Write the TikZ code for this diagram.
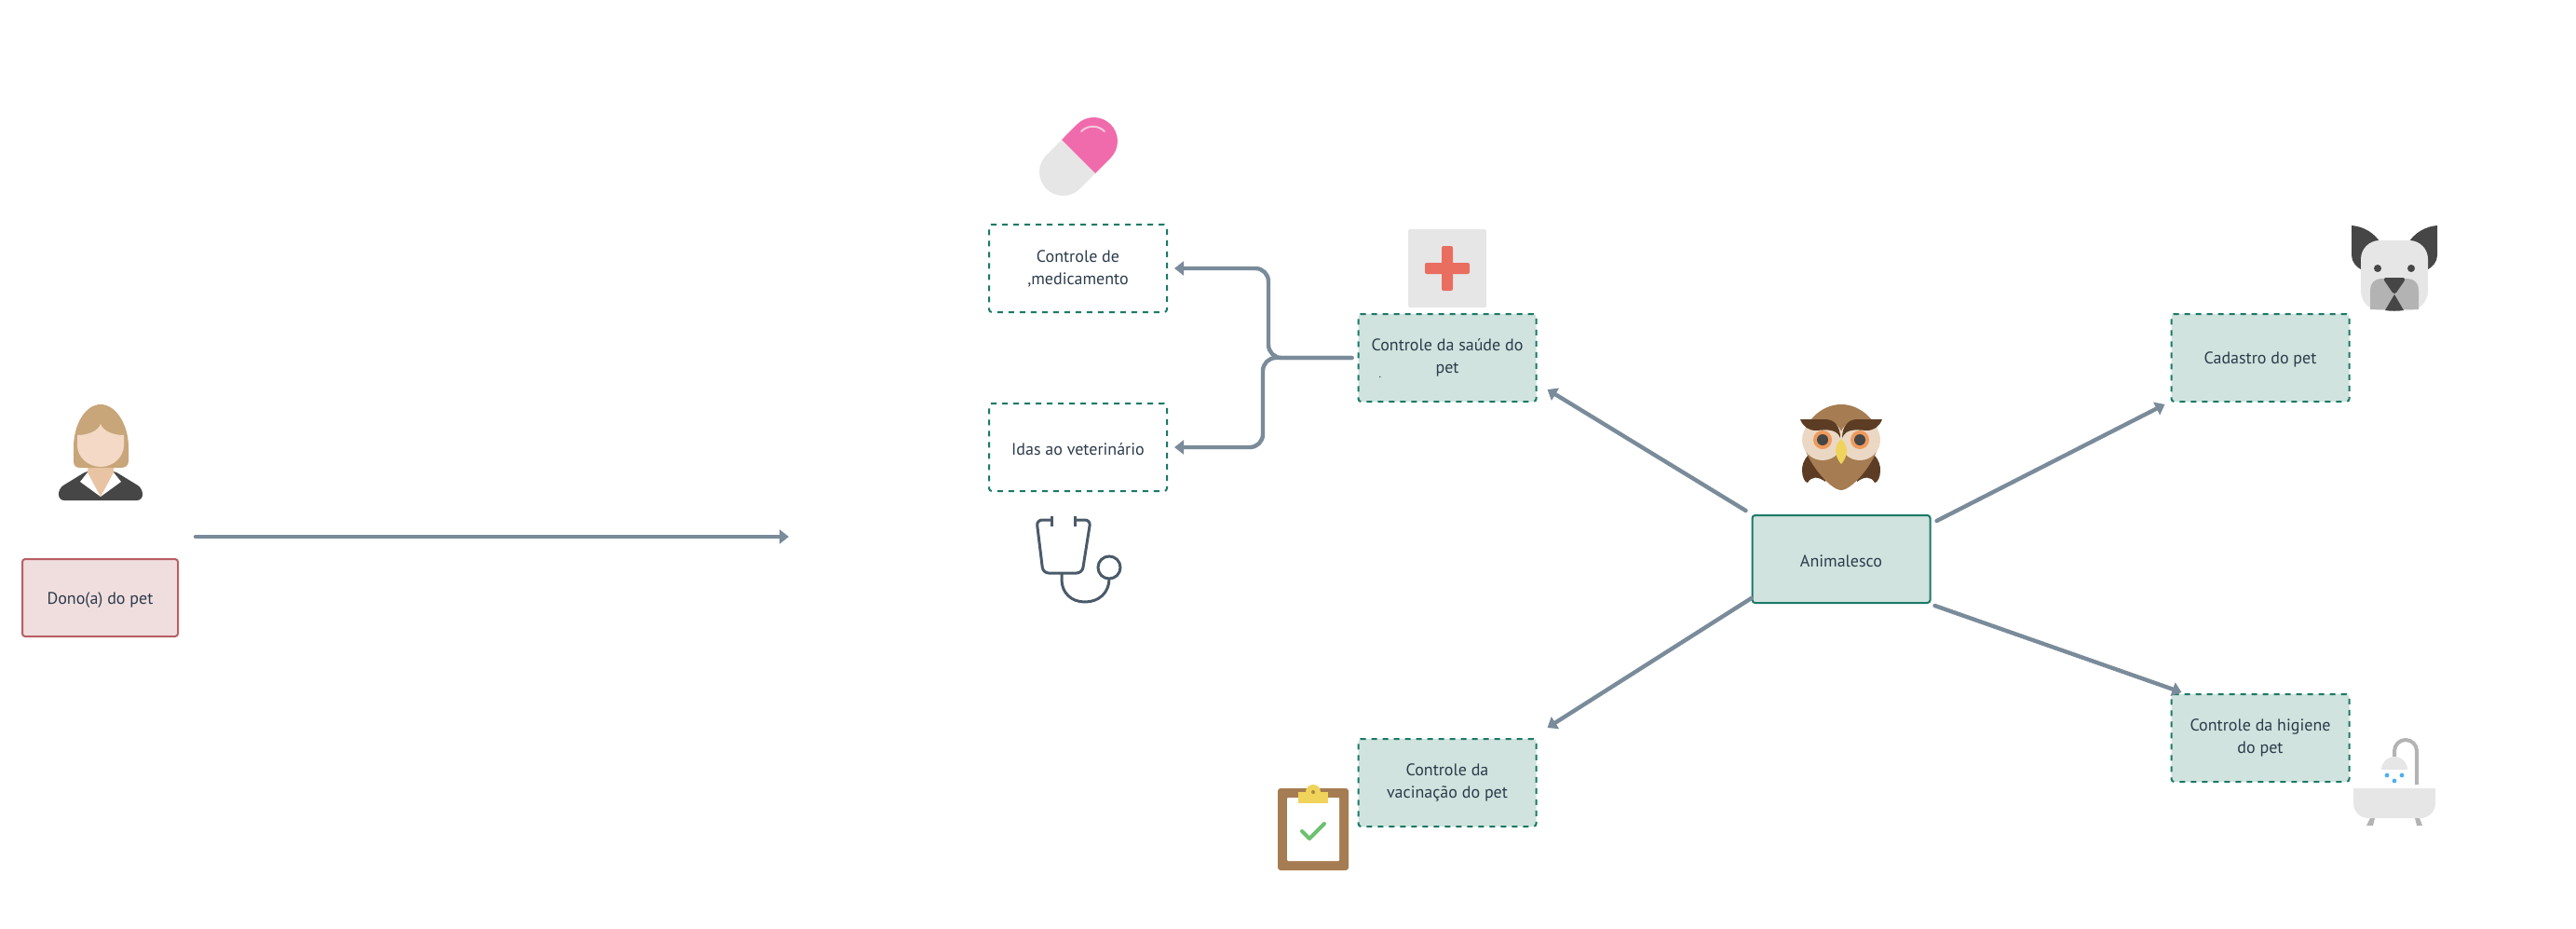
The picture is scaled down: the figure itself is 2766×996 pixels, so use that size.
\documentclass[tikz,border=0pt]{standalone}
\usepackage{fontspec}
\setmainfont{PT Sans}
\usetikzlibrary{arrows.meta}

\definecolor{tealline}{HTML}{1A7A66}
\definecolor{tealfill}{HTML}{D1E3DE}
\definecolor{redline}{HTML}{B85F63}
\definecolor{redfill}{HTML}{F0DEDF}
\definecolor{connline}{HTML}{7A8B9A}
\definecolor{labeltext}{HTML}{2C3B4B}
\definecolor{darkgray}{HTML}{464646}
\definecolor{midgray}{HTML}{B3B3B3}
\definecolor{lightgray}{HTML}{E6E6E6}
\definecolor{owlbrown}{HTML}{A67C52}
\definecolor{darkbrown}{HTML}{5C3D24}
\definecolor{cream}{HTML}{EAD8C5}
\definecolor{beakyellow}{HTML}{F0D35A}
\definecolor{eyeorange}{HTML}{EE9A5C}
\definecolor{hairtan}{HTML}{C8A67A}
\definecolor{necktan}{HTML}{E9C4A4}
\definecolor{facetan}{HTML}{F3D9C6}
\definecolor{pillpink}{HTML}{F06BAC}
\definecolor{pillshine}{HTML}{F5C8DD}
\definecolor{crossred}{HTML}{E96E60}
\definecolor{scopeblue}{HTML}{4A5A69}
\definecolor{dropblue}{HTML}{4DB0F0}
\definecolor{checkgreen}{HTML}{6CC070}
\definecolor{cliphole}{HTML}{A68A3A}

\tikzset{
  x=0.5pt, y=-0.5pt,
  box/.style={rounded corners=1.5pt, line width=1pt, minimum width=95.5pt, minimum height=47pt,
    inner sep=0pt, align=center, text=labeltext, font=\fontsize{9}{12}\selectfont,
    execute at begin node={\rule{0pt}{8.6pt}}},
  solidbox/.style={box, draw=tealline, fill=tealfill},
  dashbox/.style={box, draw=tealline, fill=tealfill, dash pattern=on 3pt off 3pt},
  plainbox/.style={box, draw=tealline, dash pattern=on 3pt off 3pt},
  ownerbox/.style={box, draw=redline, fill=redfill, minimum width=83.5pt, minimum height=41.5pt},
  conn/.style={draw=connline, line width=2.2pt, line cap=round, -{Triangle[length=5pt,width=7.5pt]}}
}

\begin{document}
\begin{tikzpicture}
    \useasboundingbox (0,0) rectangle (2766,996);

    \node[ownerbox] (owner) at (107.5,641.5) {Dono(a) do pet};
    \node[plainbox] (med) at (1157.5,288) {Controle de\\,medicamento};
    \node[plainbox] (vet) at (1157.5,480) {Idas ao veterinário};
    \node[dashbox] (saude) at (1554,384) {Controle da saúde do\\pet};
    \node[dashbox] (vacina) at (1554,840) {Controle da\\vacinação do pet};
    \node[solidbox] (anim) at (1977,600) {Animalesco};
    \node[dashbox] (cadastro) at (2427,384) {Cadastro do pet};
    \node[dashbox] (higiene) at (2427,792) {Controle da higiene\\do pet};
    \node[text=labeltext, inner sep=0pt, font=\fontsize{6}{6}\selectfont] (ponto) at (1482,405) {.};

    \coordinate (ownerout) at (210,576);
    \coordinate (ownerin) at (847,576);
    \draw[conn] (ownerout) -- (ownerin);
    \draw[conn] ([shift={(-6,-4)}]anim.north west) -- ([shift={(11,-14)}]saude.south east);
    \draw[conn] ([shift={(6,7)}]anim.north east) -- ([shift={(-6,2)}]cadastro.south west);
    \draw[conn] ([shift={(0,-6)}]anim.south west) -- ([shift={(11,-11)}]vacina.north east);
    \draw[conn] ([shift={(4,2)}]anim.south east) -- ([shift={(12,-1)}]higiene.north west);
    \draw[conn, rounded corners=7pt] ([xshift=-3pt]saude.west) -- (1362,384) |- ([xshift=3.5pt]med.east);
    \draw[conn, rounded corners=7pt] ([xshift=-3pt]saude.west) -- (1356,384) |- ([xshift=3.5pt]vet.east);

    % person
    \fill[darkgray, rounded corners=3pt] (63,537) -- (63,524) -- (94,505) -- (122,505) -- (153,524) -- (153,537) -- cycle;
    \fill[white] (94,507) -- (86,517) -- (108,533) -- (130,517) -- (122,507) -- cycle;
    \fill[necktan] (95,495) -- (122,495) -- (122,507) -- (108,533) -- (94,507) -- cycle;
    \fill[hairtan] (108,434) .. controls (124,434) and (138,455) .. (138,480) -- (138,495)
      .. controls (138,500) and (134,502) .. (130,502) -- (86,502)
      .. controls (82,502) and (79,500) .. (79,495) -- (79,480)
      .. controls (79,455) and (92,434) .. (108,434);
    \fill[facetan] (108,455) .. controls (111,463) and (122,467) .. (133,467) -- (133,478)
      .. controls (133,490) and (122,501) .. (108,501)
      .. controls (94,501) and (83,490) .. (83,478) -- (83,467)
      .. controls (94,467) and (105,463) .. (108,455);

    % pill
    \fill[lightgray] (1140,150) -- (1123.5,166.5) arc[start angle=225, end angle=45, radius=25.5] -- (1176,186) -- cycle;
    \fill[pillpink] (1176,186) -- (1192.5,169.5) arc[start angle=45, end angle=-135, radius=25.5] -- (1140,150) -- cycle;
    \draw[pillshine, line width=1pt, line cap=round] (1161,141) .. controls (1168,134) and (1179,134) .. (1186,141);

    % cross
    \fill[lightgray, rounded corners=1pt] (1512,246) rectangle (1596,330);
    \fill[crossred, rounded corners=1pt] (1530,282) rectangle (1578,294);
    \fill[crossred, rounded corners=1pt] (1548,264) rectangle (1560,312);

    % stethoscope
    \draw[scopeblue, line width=1.5pt, rounded corners=3pt] (1129,558) -- (1113,558) -- (1120,615) -- (1162,615) -- (1171,558) -- (1154,558);
    \draw[scopeblue, line width=1.5pt] (1129,554) -- (1129,565) (1154,554) -- (1154,565);
    \draw[scopeblue, line width=1.5pt] (1140,615) -- (1140,622) .. controls (1140,636) and (1150,646) .. (1165,646)
      .. controls (1180,646) and (1191,636) .. (1191,621);
    \draw[scopeblue, line width=1.5pt] (1191,609) circle[radius=12];

    % owl
    \fill[darkbrown] (1942,488) .. controls (1936,494) and (1935,500) .. (1935,505)
      .. controls (1935,512) and (1938,518) .. (1941,518) .. controls (1945,511) and (1952,511) .. (1960,517) -- (1965,490) -- cycle;
    \fill[darkbrown] (2012,488) .. controls (2018,494) and (2019,500) .. (2019,505)
      .. controls (2019,512) and (2016,518) .. (2013,518) .. controls (2009,511) and (2002,511) .. (1994,517) -- (1989,490) -- cycle;
    \fill[owlbrown] (1977,434) .. controls (2000,434) and (2018,455) .. (2018,472)
      .. controls (2018,490) and (1990,526) .. (1977,526)
      .. controls (1964,526) and (1936,490) .. (1936,472)
      .. controls (1936,455) and (1954,434) .. (1977,434);
    \fill[cream] (1957,472) circle[radius=22];
    \fill[cream] (1997,472) circle[radius=22];
    \fill[eyeorange] (1957,472) circle[radius=10];
    \fill[eyeorange] (1997,472) circle[radius=10];
    \fill[darkgray] (1957,472) circle[radius=6];
    \fill[darkgray] (1997,472) circle[radius=6];
    \fill[darkbrown] (1933,450) -- (1960,450) .. controls (1970,450) and (1976,458) .. (1976,470)
      .. controls (1972,460) and (1962,461) .. (1950,462) .. controls (1942,462) and (1936,458) .. (1933,450);
    \fill[darkbrown] (2021,450) -- (1994,450) .. controls (1984,450) and (1978,458) .. (1978,470)
      .. controls (1982,460) and (1992,461) .. (2004,462) .. controls (2012,462) and (2018,458) .. (2021,450);
    \fill[beakyellow] (1977,471) .. controls (1981,475) and (1983,480) .. (1983,484)
      .. controls (1983,490) and (1979,496) .. (1977,498)
      .. controls (1975,496) and (1971,490) .. (1971,484)
      .. controls (1971,480) and (1973,475) .. (1977,471);

    % dog
    \fill[darkgray] (2525,242) .. controls (2538,243) and (2550,250) .. (2557,262) -- (2537,290)
      .. controls (2530,287) and (2525,281) .. (2525,274) -- cycle;
    \fill[darkgray] (2617,242) .. controls (2604,243) and (2592,250) .. (2585,262) -- (2605,290)
      .. controls (2612,287) and (2617,281) .. (2617,274) -- cycle;
    \fill[lightgray] (2555,258) -- (2587,258) .. controls (2598,258) and (2607,267) .. (2607,278) -- (2607,312)
      .. controls (2607,324) and (2598,333) .. (2587,333) -- (2555,333)
      .. controls (2544,333) and (2535,324) .. (2535,312) -- (2535,278)
      .. controls (2535,267) and (2544,258) .. (2555,258);
    \fill[darkgray] (2553,288) circle[radius=4];
    \fill[darkgray] (2589,288) circle[radius=4];
    \fill[midgray] (2545,332) -- (2545,311) .. controls (2545,304) and (2550,299) .. (2557,299) -- (2585,299)
      .. controls (2592,299) and (2597,304) .. (2597,311) -- (2597,332) -- cycle;
    \fill[darkgray] (2571,316) -- (2561,333) .. controls (2566,334) and (2576,334) .. (2581,333) -- cycle;
    \fill[darkgray, rounded corners=2pt] (2558,298) -- (2584,298) -- (2571,317) -- cycle;

    % bath
    \draw[midgray, line width=2pt] (2595,842) -- (2595,806) arc[start angle=0, end angle=-180, radius=12] -- (2571,812);
    \fill[lightgray] (2557,826) arc[start angle=180, end angle=360, radius=14] -- cycle;
    \fill[dropblue] (2563,832) circle[radius=2.4];
    \fill[dropblue] (2579,832) circle[radius=2.4];
    \fill[dropblue] (2571,838) circle[radius=2.4];
    \fill[midgray] (2545,878) -- (2541,886) -- (2548,886) -- (2550,878) -- cycle;
    \fill[midgray] (2593,878) -- (2595,886) -- (2601,886) -- (2598,878) -- cycle;
    \fill[lightgray] (2527,846) -- (2615,846) -- (2615,862) .. controls (2615,871) and (2608,878) .. (2599,878)
      -- (2543,878) .. controls (2534,878) and (2527,871) .. (2527,862) -- cycle;

    % clipboard
    \fill[owlbrown, rounded corners=1.5pt] (1372,846) rectangle (1448,934);
    \fill[white, rounded corners=0.5pt] (1382,856) rectangle (1438,924);
    \fill[beakyellow] (1394,850) rectangle (1426,862);
    \fill[beakyellow] (1410,850) circle[radius=8];
    \fill[cliphole] (1410,850) circle[radius=2];
    \draw[checkgreen, line width=2pt, line cap=round, line join=round] (1398,892) -- (1406,900) -- (1422,884);
\end{tikzpicture}
\end{document}
